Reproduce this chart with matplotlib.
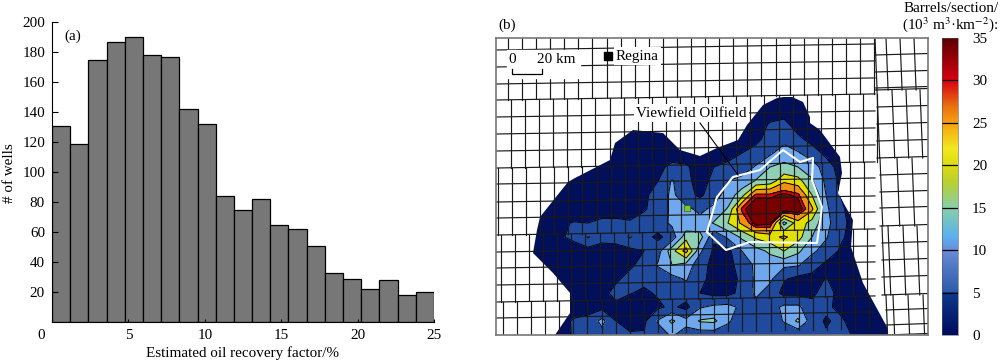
import matplotlib
matplotlib.use("Agg")
import matplotlib.pyplot as plt
import numpy as np
from matplotlib.colors import LinearSegmentedColormap, Normalize
from matplotlib.cm import ScalarMappable
from matplotlib.patches import Polygon
from matplotlib.transforms import ScaledTranslation

plt.rcParams['font.family'] = ['Liberation Serif', 'DejaVu Serif']
plt.rcParams['mathtext.fontset'] = 'stix'
plt.rcParams['font.size'] = 10.9

W, H = 1000, 362

# (a) histogram
well_counts = [131, 119, 175, 187, 190, 178, 177, 142, 132, 84, 75,
               82, 65, 62, 51, 33, 29, 22, 28, 18, 20]
x_ticks = [0, 5, 10, 15, 20, 25]
y_ticks = [20, 40, 60, 80, 100, 120, 140, 160, 180, 200]

# (b) oil in place on a coarse grid (picture pixels)
field_x = np.arange(532, 897, 14)
field_y = np.arange(97, 336, 14)
field_values = [
    [3]*27,
    [3]*27,
    [3]*17 + [5.5, 6.5] + [3]*8,
    [3]*16 + [4, 6.5, 8, 6, 3.5] + [3]*6,
    [3]*14 + [3.5, 5, 6.5, 9, 13, 10.5, 7, 4] + [3]*5,
    [3]*9 + [4, 6, 5.5, 3.5, 5, 6, 7.5, 10.5, 15, 16, 15, 13, 7, 3.5] + [3]*4,
    [3]*9 + [5, 10.5, 6, 3.5, 6, 10, 11.5, 15.5, 17, 24, 22, 15.5, 9, 4] + [3]*4,
    [3]*8 + [4, 7, 11, 7, 4, 8, 12, 18, 31, 31, 33, 31, 20, 10, 5] + [3]*4,
    [3]*7 + [3, 4.5, 7, 11, 11, 9, 11, 15.5, 31, 35, 35, 35, 35, 26, 11, 6] + [3]*4,
    [3]*2 + [4.5, 5.2, 5, 6, 6, 5.5, 7, 7.5, 11, 11, 11.5, 15.5, 20, 26, 34, 33, 13, 23, 18, 11.5, 7] + [3]*4,
    [3]*2 + [4.5, 6, 10.5, 6.5, 7, 10.5, 6.5, 4, 7, 18, 17, 6, 11, 16, 21, 23, 26, 22, 15, 10.5, 6] + [3]*4,
    [3]*2 + [3, 3, 3, 3, 3, 3.5, 5, 8, 18, 27, 11, 4, 3.5, 10, 13, 16, 20, 16, 11, 8, 4.5] + [3]*4,
    [3]*6 + [3, 4.5, 6, 10.5, 15, 13, 7, 3.5, 3.5, 7, 11, 12, 11, 10.5, 7, 4, 3.5] + [3]*4,
    [3]*4 + [3, 3, 4.5, 6, 6, 6.5, 8, 10.5, 6, 3.8, 3, 6, 11, 11, 5.5, 3.5, 3.5, 5.2, 3.5] + [3]*4,
    [3]*5 + [4, 6, 5.2, 4.3, 5.5, 7, 7.5, 5, 3.5, 3.5, 6.5, 11, 8, 3.5, 3.5, 4, 7, 3.5] + [3]*4,
    [3]*5 + [3.5, 4.2, 3, 3, 4.2, 6, 3.5, 9.5, 11, 11.5, 9, 8, 8, 11, 11, 6.5, 6, 3.8] + [3]*4,
    [3]*2 + [3.5, 5.5, 6.5, 11.5, 5, 3.5, 4, 10.5, 16, 11.5, 15.5, 16, 11, 6, 5.5, 6, 10.5, 16, 7, 4.5, 6, 3] + [3]*3,
    [3]*2 + [3, 5.5, 6, 8, 6, 5.5, 5.5, 8, 10.5, 8, 7, 7, 6, 5.5, 5.5, 5.5, 5.5, 5.5, 5.5, 5.5, 7, 4.5] + [3]*3,
]
field_levels = [0, 5, 10, 15, 20, 25, 30, 32, 35.5]
field_colors = ['#020f5a', '#1f4a9e', '#6fa8ec', '#90d0b4', '#e2e000',
                '#f29010', '#d8000c', '#7a0000']

field_outline_x = [555, 570, 570, 553, 533, 537, 540, 568, 575, 610, 615, 633, 663, 680,
                   700, 717, 738, 747, 763, 777, 790, 803, 810, 810, 820, 840, 842, 838,
                   853, 851, 863, 887, 888]
field_outline_y = [335, 313, 293, 273, 253, 230, 217, 182, 178, 160, 143, 130, 133, 150,
                   156, 148, 140, 125, 105, 98, 96, 102, 117, 123, 130, 157, 173, 193,
                   220, 247, 283, 327, 335]

oilfield_x = [707, 717, 733, 760, 783, 800, 813, 812, 822, 817, 750, 726, 707]
oilfield_y = [232, 197, 177, 170, 150, 162, 158, 180, 207, 243, 242, 250, 232]

cbar_values = [0, 5, 5.01, 10, 11.5, 15, 18, 20, 22, 25, 27, 30, 35]
cbar_colors = ['#000a5c', '#0d3a8c', '#2c5aa8', '#6a8bd6', '#5ab0f0', '#88cfa8', '#b8d030',
               '#dcdc10', '#f0e820', '#f7a010', '#e87010', '#d80010', '#5a0000']
cbar_ticks = [0, 5, 10, 15, 20, 25, 30, 35]

fig = plt.figure(figsize=(W/100, H/100), dpi=100)

# ---------- panel a ----------
ax1 = fig.add_axes([52/W, 1-322.3/H, 382/W, 300/H])
edges = np.linspace(0, 25, len(well_counts)+1)
ax1.bar(edges[:-1], well_counts, width=np.diff(edges), align='edge',
        color='#777777', edgecolor='black', linewidth=0.9)
ax1.set_xlim(0, 25)
ax1.set_ylim(0, 200)
ax1.spines['top'].set_visible(False)
ax1.spines['right'].set_visible(False)
ax1.set_xticks(x_ticks)
ax1.set_yticks(y_ticks)
ax1.tick_params(axis='y', direction='in', length=4.5, width=0.8, pad=5)
ax1.tick_params(axis='x', direction='in', length=2, width=0.8, pad=5)
lab0 = ax1.get_xticklabels()[0]
lab0.set_transform(lab0.get_transform() + ScaledTranslation(-0.11, 0, fig.dpi_scale_trans))
fig.text(243/W, 1-353/H, 'Estimated oil recovery factor/%', ha='center', va='center')
fig.text(10/W, 1-173/H, '# of wells', rotation=90, ha='center', va='center')
fig.text(64/W, 1-36/H, '(a)', ha='left', va='center')

# ---------- panel b ----------
ax2 = fig.add_axes([496/W, 1-335/H, 432/W, 297/H])
ax2.set_xlim(496, 928)
ax2.set_ylim(335, 38)
ax2.set_xticks([])
ax2.set_yticks([])
for s in ax2.spines.values():
    s.set_color('#777777')
    s.set_linewidth(1.2)
    s.set_zorder(6)

cf = ax2.contourf(field_x, field_y, np.array(field_values), levels=field_levels,
                  colors=field_colors, zorder=1)
cl = ax2.contour(field_x, field_y, np.array(field_values), levels=field_levels[1:-1],
                 colors='black', linewidths=0.7, zorder=2)
outline = Polygon(np.column_stack([field_outline_x, field_outline_y]), closed=True,
                  transform=ax2.transData, fill=False, edgecolor='none')
ax2.add_patch(outline)
cf.set_clip_path(outline)
cl.set_clip_path(outline)
ax2.scatter([687], [208], marker='s', s=16, color='#80c820', edgecolor='#205010',
            linewidth=0.4, zorder=2)

# township grid
line_col = '#1a1a1a'
tilt = -0.016
for y in [50, 67, 84, 100, 117, 134, 151, 168, 184, 202, 218, 235, 252, 268, 285, 302, 318]:
    ax2.plot([496, 875], [y, y + tilt*379], color=line_col, lw=0.85, zorder=3)
for y0, y1, x0 in [(38, 100, 508), (100, 168, 511), (168, 235, 498), (235, 302, 501), (302, 335, 503)]:
    for k in range(28):
        x = x0 + 14.08*k
        if x < 878:
            ax2.plot([x, x], [y0 + tilt*(x-496), y1 + tilt*(x-496)], color=line_col, lw=0.85, zorder=3)

# blocks on the right side
right_blocks = [
    (38, 90, 875, [886, 900, 914], [55, 72, 88]),
    (90, 158, 877, [892, 906, 920], [107, 124, 141]),
    (158, 226, 880, [897, 912], [175, 192, 208]),
    (226, 295, 882, [888, 903, 917], [243, 260, 277]),
    (295, 335, 886, [893, 908, 923], [310, 325]),
]
for y0, y1, x0, vs, hs in right_blocks:
    ax2.plot([x0, x0 + 0.04*(y1-y0)], [y0, y1], color=line_col, lw=0.85, zorder=3)
    for x in vs:
        ax2.plot([x, x + 0.04*(y1-y0)], [y0, y1], color=line_col, lw=0.85, zorder=3)
    for y in hs:
        ax2.plot([x0, 928], [y, y - 1.5], color=line_col, lw=0.85, zorder=3)
    ax2.plot([x0, 928], [y1, y1 - 1.5], color=line_col, lw=0.85, zorder=3)

ax2.plot(oilfield_x, oilfield_y, color='white', lw=1.5, zorder=4)

# leader and labels on the map
ax2.plot([700, 738], [123, 175], color='black', lw=0.8, zorder=4)
ax2.text(691.5, 113, 'Viewfield Oilfield', ha='center', va='center', zorder=5,
         bbox=dict(facecolor='white', edgecolor='none', pad=1.5))
ax2.fill([507, 580, 580, 507], [50, 50, 78, 78], color='white', zorder=4)
ax2.text(512, 59, '0', ha='center', va='center', zorder=5)
ax2.text(556, 59, '20 km', ha='center', va='center', zorder=5)
ax2.plot([512, 512, 542, 542], [69, 74, 74, 69], color='black', lw=0.9, zorder=5)
ax2.scatter([608], [56], marker='s', s=28, color='black', zorder=5)
ax2.text(616, 56, 'Regina', ha='left', va='center', zorder=5,
         bbox=dict(facecolor='white', edgecolor='none', pad=1.5))
fig.text(498/W, 1-25/H, '(b)', ha='left', va='center')

# ---------- colour bar ----------
cax = fig.add_axes([942/W, 1-335/H, 16/W, 297/H])
stops = [(v/35, c) for v, c in zip(cbar_values, cbar_colors)]
cmap = LinearSegmentedColormap.from_list('barrels', stops, N=512)
cb = fig.colorbar(ScalarMappable(norm=Normalize(0, 35), cmap=cmap), cax=cax)
cb.set_ticks(cbar_ticks)
cb.ax.tick_params(length=0, pad=10)
cb.outline.set_linewidth(0.4)
cb.outline.set_edgecolor('#555555')
for v in cbar_ticks[1:-1]:
    cax.axhline(v, color='black', lw=0.9)

fig.text(999/W, 1-8/H, 'Barrels/section/', ha='right', va='center')
fig.text(998/W, 1-25/H, '(10$^{3}$ m$^{3}$·km$^{-2}$):', ha='right', va='center')

fig.savefig('out.png', dpi=100)
